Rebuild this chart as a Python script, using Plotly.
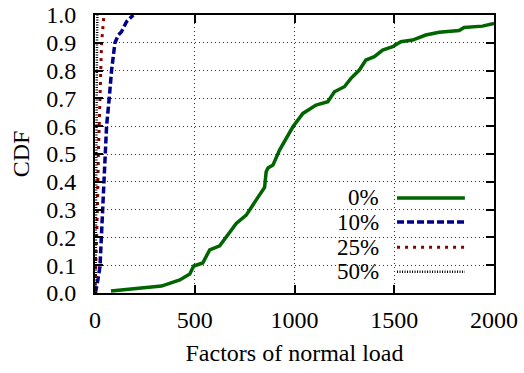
import plotly.graph_objects as go

# CDF of load factors for each percentage setting
load_0 = [80, 200, 333, 425, 475, 495, 540, 575, 625, 708, 758, 808, 850, 858, 867, 892, 925,
          992, 1042, 1108, 1167, 1200, 1250, 1283, 1325, 1358, 1400, 1442, 1492, 1533, 1592,
          1658, 1725, 1825, 1850, 1942, 2000]
cdf_0 = [0.007, 0.015, 0.025, 0.047, 0.068, 0.097, 0.108, 0.155, 0.17, 0.25, 0.28, 0.335, 0.38,
         0.436, 0.45, 0.46, 0.514, 0.598, 0.646, 0.676, 0.688, 0.724, 0.742, 0.772, 0.802, 0.838,
         0.85, 0.874, 0.886, 0.904, 0.91, 0.928, 0.938, 0.944, 0.955, 0.96, 0.97]

load_10 = [2, 5, 15, 25, 38, 50, 58, 72, 83, 100, 117, 133, 158, 192]
cdf_10 = [0.0, 0.01, 0.05, 0.095, 0.3, 0.5, 0.6, 0.706, 0.8, 0.9, 0.928, 0.94, 0.976, 1.0]

load_25 = [0, 5, 12, 17, 25, 33, 45]
cdf_25 = [0.0, 0.1, 0.3, 0.5, 0.69, 0.9, 1.0]

load_50 = [3, 4, 6, 8, 10, 12]
cdf_50 = [0.0, 0.2, 0.5, 0.75, 0.9, 1.0]

series_names = ["0%", "10%", "25%", "50%"]
colors = ["#006400", "#00008b", "#8b0000", "#000000"]
dashes = ["solid", "7px,3px", "3px,5px", "1px,1.5px"]
widths = [3.5, 3.5, 3, 2.5]

FONT = "Liberation Serif"
FS = 24

fig = go.Figure()
for xs, ys, c, d, w in zip([load_0, load_10, load_25, load_50],
                           [cdf_0, cdf_10, cdf_25, cdf_50], colors, dashes, widths):
    fig.add_trace(go.Scatter(x=xs, y=ys, mode="lines",
                             line=dict(color=c, dash=d, width=w), showlegend=False))

# legend: label on the left, line sample on the right
leg_y = [0.342, 0.255, 0.165, 0.076]
for name, c, d, w, yy in zip(series_names, colors, dashes, widths, leg_y):
    fig.add_annotation(x=0.718, y=yy, xref="paper", yref="paper", text=name,
                       showarrow=False, xanchor="right", yanchor="middle",
                       font=dict(family=FONT, size=23, color="black"))
    fig.add_shape(type="line", xref="paper", yref="paper",
                  x0=0.757, x1=0.927, y0=yy, y1=yy,
                  line=dict(color=c, dash=d, width=w))

axis_common = dict(
    automargin=False,
    showline=True, linecolor="black", linewidth=2, mirror="allticks",
    ticks="inside", ticklen=8, tickcolor="black", tickwidth=1.5,
    showgrid=True, gridcolor="#333333", gridwidth=1, griddash="1px,3px",
    zeroline=False, tickfont=dict(family=FONT, size=FS, color="black"),
)

fig.update_xaxes(range=[0, 2000], tickvals=[0, 500, 1000, 1500, 2000],
                 ticklabelstandoff=4,
                 title=dict(text="Factors of normal load", font=dict(family=FONT, size=FS),
                            standoff=12),
                 **axis_common)
fig.update_yaxes(range=[0, 1], dtick=0.1, tickformat=".1f",
                 ticklabelstandoff=12,
                 title=dict(text="CDF", font=dict(family=FONT, size=FS), standoff=10),
                 **axis_common)

fig.update_layout(width=524, height=373, margin=dict(l=95, r=30, t=15, b=80),
                  plot_bgcolor="white", paper_bgcolor="white",
                  font=dict(family=FONT, color="black"))

fig.write_html("out.html")
